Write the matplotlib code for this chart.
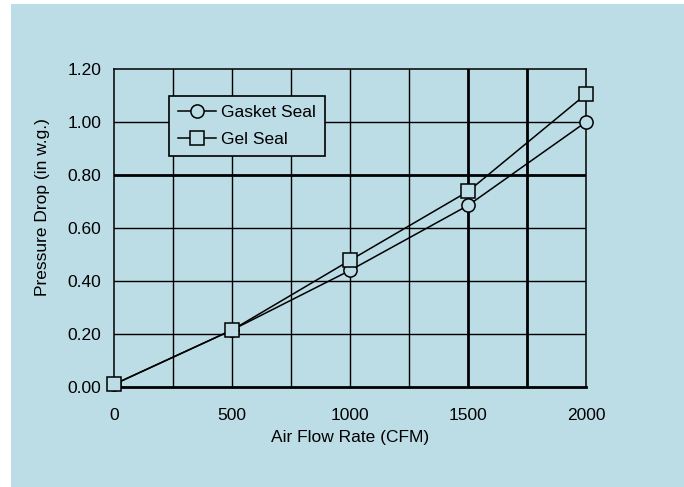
import matplotlib.pyplot as plt
from matplotlib.patches import Rectangle

# data
air_flow = [0, 500, 1000, 1500, 2000]
gasket_seal = [0.01, 0.215, 0.44, 0.685, 1.00]
gel_seal = [0.01, 0.215, 0.478, 0.738, 1.105]

x_ticks = [0, 500, 1000, 1500, 2000]
y_ticks = [0.0, 0.2, 0.4, 0.6, 0.8, 1.0, 1.2]

BG = '#bcdce6'

plt.rcParams['font.family'] = ['Liberation Sans', 'DejaVu Sans']

fig = plt.figure(figsize=(6.84, 4.87), dpi=100, facecolor='white')
# light blue panel behind everything
fig.patches.append(Rectangle((11 / 684, -0.01), 1, (487 - 4) / 487 + 0.01,
                             transform=fig.transFigure, facecolor=BG,
                             edgecolor='none', zorder=0))

ax = fig.add_axes([114 / 684, 100 / 487, 472 / 684, 318 / 487])
ax.set_zorder(2)
ax.set_facecolor(BG)
ax.set_xlim(0, 2000)
ax.set_ylim(0, 1.2)

# grid: every 250 CFM and every 0.2 in w.g.
for gx in range(250, 2000, 250):
    lw = 2.0 if gx in (1500, 1750) else 1.0
    ax.axvline(gx, color='black', lw=lw, zorder=1)
for gy in [0.2, 0.4, 0.6, 0.8, 1.0]:
    lw = 2.0 if abs(gy - 0.8) < 1e-9 else 1.0
    ax.axhline(gy, color='black', lw=lw, zorder=1)

for side in ['top', 'right', 'left']:
    ax.spines[side].set_linewidth(1.1)
ax.spines['bottom'].set_linewidth(2.0)

ax.plot(air_flow, gasket_seal, color='black', lw=1.1, marker='o', ms=9.5,
        mfc=BG, mec='black', mew=1.1, label='Gasket Seal', zorder=3,
        clip_on=False)
ax.plot(air_flow, gel_seal, color='black', lw=1.1, marker='s', ms=9.5,
        mfc=BG, mec='black', mew=1.1, label='Gel Seal', zorder=3,
        clip_on=False)

ax.set_xticks(x_ticks)
ax.set_xticklabels([str(v) for v in x_ticks])
ax.set_yticks(y_ticks)
ax.set_yticklabels(['%.2f' % v for v in y_ticks])
ax.tick_params(axis='both', length=0, labelsize=12.5)
ax.tick_params(axis='x', pad=15)
ax.tick_params(axis='y', pad=9)

ax.set_xlabel('Air Flow Rate (CFM)', fontsize=12.5, labelpad=5)
ax.set_ylabel('Pressure Drop (in w.g.)', fontsize=12.5)
ax.yaxis.set_label_coords(-0.135, 0.565)

leg = ax.legend(loc='upper left', bbox_to_anchor=(0.1165, 0.915),
                fontsize=12.5, fancybox=False, framealpha=1,
                facecolor=BG, edgecolor='black', handlelength=2.2,
                handletextpad=0.3, borderpad=0.5, labelspacing=0.7,
                borderaxespad=0)
leg.get_frame().set_linewidth(1.2)
leg.set_zorder(5)

fig.savefig('out.png', dpi=100, facecolor='white')
